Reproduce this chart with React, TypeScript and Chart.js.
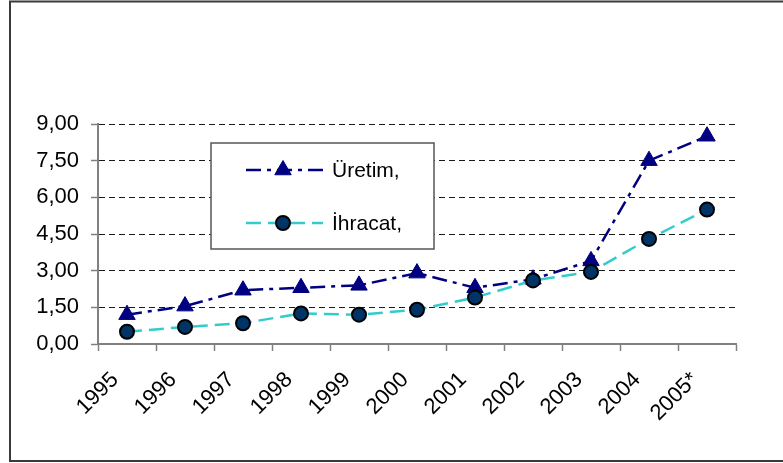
import React, { useEffect, useRef } from "react";
import { Chart, registerables } from "chart.js";

Chart.register(...registerables);

const years = ["1995", "1996", "1997", "1998", "1999", "2000", "2001", "2002", "2003", "2004", "2005*"];
const uretim = [1.2, 1.55, 2.2, 2.3, 2.4, 2.9, 2.3, 2.65, 3.4, 7.5, 8.5];
const ihracat = [0.5, 0.7, 0.85, 1.25, 1.2, 1.4, 1.9, 2.6, 2.95, 4.3, 5.5];
const seriesNames = ["Üretim,", "İhracat,"];
const yTicks = [0, 1.5, 3, 4.5, 6, 7.5, 9];

const FONT = "'Liberation Sans', Arial, sans-serif";

const frameAndLegend = {
  id: "frameAndLegend",
  beforeDraw(chart: any) {
    const ctx = chart.ctx;
    ctx.save();
    ctx.fillStyle = "#ffffff";
    ctx.fillRect(0, 0, chart.width, chart.height);
    ctx.strokeStyle = "#3a3a3a";
    ctx.lineWidth = 2;
    ctx.strokeRect(10, 1.5, 800, 459.5);
    ctx.restore();
  },
  afterDraw(chart: any) {
    const ctx = chart.ctx;
    ctx.save();
    ctx.fillStyle = "#ffffff";
    ctx.fillRect(211, 143, 223, 106);
    ctx.strokeStyle = "#555555";
    ctx.lineWidth = 1.5;
    ctx.strokeRect(211, 143, 223, 106);
    const rows = [170, 223];
    chart.data.datasets.forEach((ds: any, i: number) => {
      const y = rows[i];
      ctx.save();
      ctx.strokeStyle = ds.borderColor;
      ctx.lineWidth = ds.borderWidth;
      ctx.setLineDash(ds.borderDash);
      ctx.beginPath();
      ctx.moveTo(246, y);
      ctx.lineTo(323, y);
      ctx.stroke();
      ctx.restore();
      ctx.save();
      ctx.fillStyle = ds.pointBackgroundColor;
      ctx.strokeStyle = ds.pointBorderColor;
      ctx.lineWidth = ds.pointBorderWidth;
      ctx.beginPath();
      if (ds.pointStyle === "triangle") {
        const r = ds.pointRadius;
        ctx.moveTo(283, y - r);
        ctx.lineTo(283 + r * 0.866, y + r * 0.5);
        ctx.lineTo(283 - r * 0.866, y + r * 0.5);
        ctx.closePath();
        ctx.fill();
        ctx.stroke();
      } else {
        ctx.arc(283, y, ds.pointRadius, 0, Math.PI * 2);
        ctx.fill();
        ctx.stroke();
      }
      ctx.restore();
      ctx.fillStyle = "#000";
      ctx.font = `21px ${FONT}`;
      ctx.textBaseline = "middle";
      ctx.textAlign = "left";
      ctx.fillText(ds.label, 332, y + 1);
    });
    ctx.restore();
  },
};

export default function App() {
  const ref = useRef<HTMLCanvasElement>(null);
  useEffect(() => {
    document.body.style.margin = "0";
    const chart = new Chart(ref.current!, {
      type: "line",
      data: {
        labels: years,
        datasets: [
          {
            label: seriesNames[0],
            data: uretim,
            borderColor: "#000080",
            backgroundColor: "#000080",
            borderWidth: 2.5,
            borderDash: [15, 6, 4, 6],
            pointStyle: "triangle",
            pointRadius: 9.5,
            pointBackgroundColor: "#000080",
            pointBorderColor: "#000080",
            pointBorderWidth: 1,
            tension: 0,
            order: 1,
          },
          {
            label: seriesNames[1],
            data: ihracat,
            borderColor: "#33cccc",
            backgroundColor: "#33cccc",
            borderWidth: 2.5,
            borderDash: [15, 7],
            pointStyle: "circle",
            pointRadius: 7,
            pointBackgroundColor: "#003366",
            pointBorderColor: "#000000",
            pointBorderWidth: 2,
            tension: 0,
            order: 0,
          },
        ] as any,
      },
      options: {
        animation: false,
        responsive: false,
        devicePixelRatio: 1,
        layout: { padding: { left: 0, right: 47, top: 124, bottom: 0 } },
        plugins: { legend: { display: false }, tooltip: { enabled: false } },
        scales: {
          x: {
            offset: true,
            grid: {
              offset: true,
              drawOnChartArea: false,
              drawTicks: true,
              tickLength: 7,
              tickColor: "#808080",
              tickWidth: 1.5,
            },
            border: { color: "#808080", width: 2 },
            ticks: {
              color: "#000",
              font: { family: FONT, size: 22 },
              maxRotation: 45,
              minRotation: 45,
              autoSkip: false,
              padding: 16,
              labelOffset: -12,
            },
            afterFit(scale: any) {
              scale.height = 119;
            },
          },
          y: {
            min: 0,
            max: 9,
            afterBuildTicks(scale: any) {
              scale.ticks = yTicks.map((v) => ({ value: v }));
            },
            grid: {
              color: (c: any) => (c.tick && c.tick.value === 0 ? "rgba(0,0,0,0)" : "#1a1a1a"),
              lineWidth: 1,
              drawTicks: true,
              tickLength: 7,
              tickColor: "#808080",
              tickWidth: 1.5,
              tickBorderDash: [],
            },
            border: { color: "#808080", width: 2, dash: [6, 4] },
            ticks: {
              color: "#000",
              font: { family: FONT, size: 22 },
              padding: 12,
              callback: (v: any) => Number(v).toFixed(2).replace(".", ","),
            },
            afterFit(scale: any) {
              scale.width = 98;
            },
          },
        },
      },
      plugins: [frameAndLegend],
    });
    return () => chart.destroy();
  }, []);
  return (
    <div style={{ position: "absolute", left: 0, top: 0, width: 783, height: 463, overflow: "hidden" }}>
      <canvas ref={ref} width={783} height={463} style={{ display: "block" }} />
    </div>
  );
}
